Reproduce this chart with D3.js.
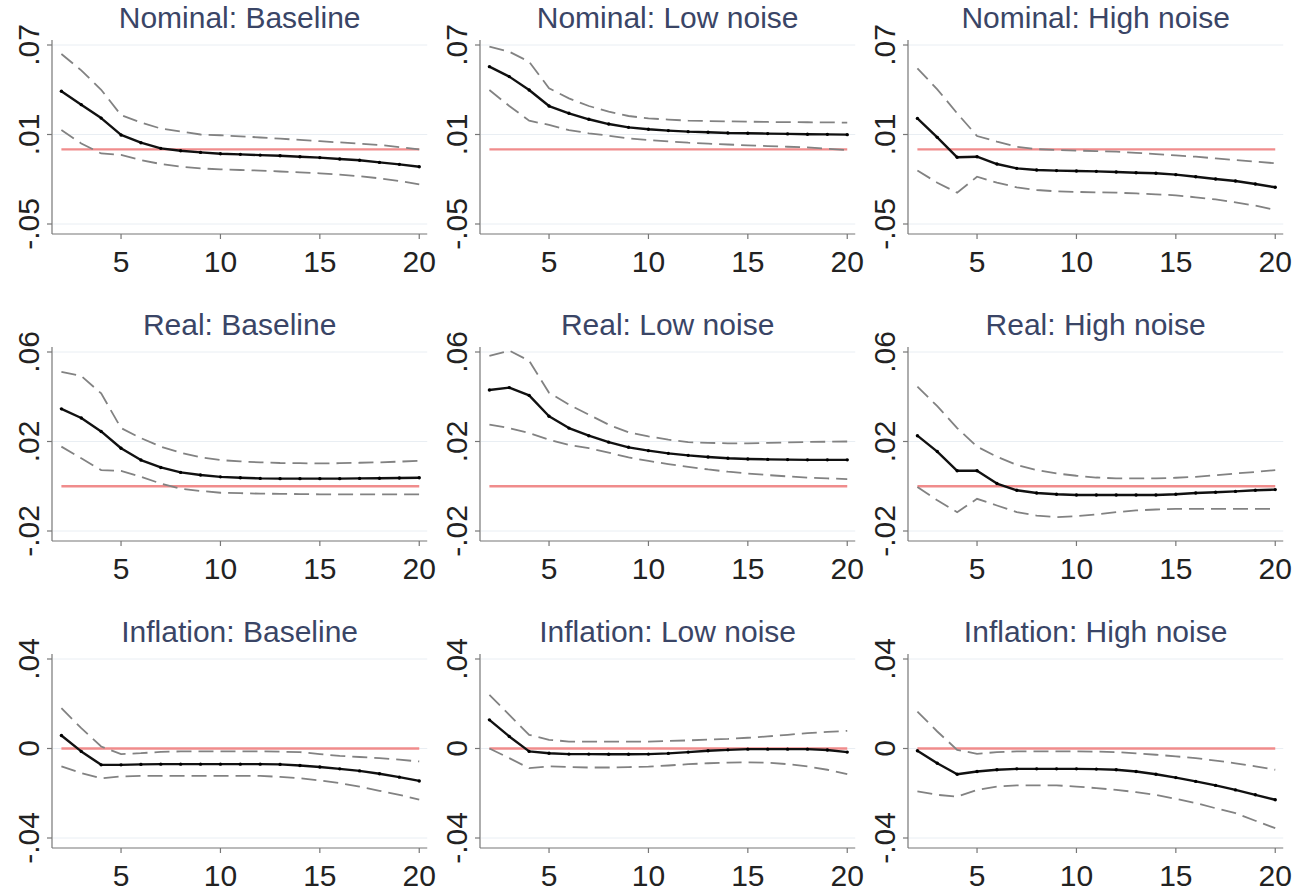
<!DOCTYPE html>
<html>
<head>
<meta charset="utf-8">
<script src="https://d3js.org/d3.v7.min.js"></script>
<style>
  body { margin: 0; background: #fff; }
  svg { display: block; }
  .title { font-family: "Liberation Sans", Arial, sans-serif; font-size: 30px; fill: #3a4566; }
  .tick-label { font-family: "Liberation Sans", Arial, sans-serif; font-size: 30px; fill: #222; }
</style>
</head>
<body>
<svg id="chart" width="1302" height="894"></svg>
<script>
// horizons on the x axis
const horizons = [2, 3, 4, 5, 6, 7, 8, 9, 10, 11, 12, 13, 14, 15, 16, 17, 18, 19, 20];
const xTicks = [5, 10, 15, 20];

const rowNames = ['Nominal', 'Real', 'Inflation'];
const colNames = ['Baseline', 'Low noise', 'High noise'];
const yTicksNominal = [-0.05, 0.01, 0.07];
const yTicksReal = [-0.02, 0.02, 0.06];
const yTicksInflation = [-0.04, 0, 0.04];

// Nominal
const nominalBaseMean = [0.039, 0.030, 0.021, 0.0097, 0.0045, 0.0007, -0.0009, -0.002, -0.0029, -0.0033, -0.0038, -0.0042, -0.0049, -0.0055, -0.0064, -0.0073, -0.0087, -0.010, -0.0116];
const nominalBaseUpper = [0.064, 0.053, 0.040, 0.023, 0.018, 0.014, 0.012, 0.010, 0.0095, 0.0088, 0.008, 0.0072, 0.0064, 0.0055, 0.0047, 0.0039, 0.003, 0.0015, 0.000];
const nominalBaseLower = [0.013, 0.004, -0.0027, -0.0037, -0.0071, -0.0098, -0.0116, -0.0127, -0.0134, -0.0138, -0.0142, -0.0148, -0.0154, -0.016, -0.0169, -0.018, -0.0194, -0.0212, -0.0234];

const nominalLowMean = [0.0555, 0.0488, 0.0398, 0.0291, 0.0242, 0.0202, 0.017, 0.0148, 0.0135, 0.0126, 0.0119, 0.0115, 0.011, 0.0108, 0.0106, 0.0104, 0.0102, 0.0101, 0.0099];
const nominalLowUpper = [0.0689, 0.0655, 0.0588, 0.041, 0.0342, 0.0291, 0.0253, 0.0224, 0.0208, 0.0200, 0.0193, 0.019, 0.0188, 0.0186, 0.0184, 0.0183, 0.0182, 0.0181, 0.018];
const nominalLowLower = [0.0398, 0.0291, 0.0193, 0.0164, 0.013, 0.0108, 0.0092, 0.0074, 0.0063, 0.0054, 0.0045, 0.0039, 0.0033, 0.0027, 0.0022, 0.0018, 0.0014, 0.0005, -0.0004];

const nominalHighMean = [0.0208, 0.0081, -0.0053, -0.0049, -0.0098, -0.0127, -0.0138, -0.0142, -0.0145, -0.0147, -0.0151, -0.0156, -0.016, -0.0169, -0.0183, -0.0198, -0.0212, -0.0232, -0.0254];
const nominalHighUpper = [0.0544, 0.0403, 0.0242, 0.009, 0.0052, 0.0018, 0.0002, -0.0004, -0.0008, -0.0011, -0.0015, -0.0023, -0.0031, -0.004, -0.0049, -0.006, -0.0071, -0.0082, -0.0093];
const nominalHighLower = [-0.0142, -0.0223, -0.029, -0.0183, -0.0223, -0.0254, -0.0272, -0.0281, -0.0285, -0.0288, -0.029, -0.0295, -0.0301, -0.0308, -0.0321, -0.0335, -0.0355, -0.0377, -0.0406];

// Real
const realBaseMean = [0.0346, 0.0305, 0.0245, 0.017, 0.0117, 0.0084, 0.0062, 0.005, 0.0042, 0.0038, 0.0035, 0.0034, 0.0034, 0.0034, 0.0034, 0.0035, 0.0036, 0.0037, 0.0038];
const realBaseUpper = [0.0511, 0.0493, 0.0415, 0.026, 0.0215, 0.0177, 0.015, 0.0129, 0.0117, 0.0111, 0.0107, 0.0104, 0.0103, 0.0102, 0.0103, 0.0105, 0.0107, 0.011, 0.0114];
const realBaseLower = [0.0177, 0.0125, 0.0072, 0.0069, 0.0042, 0.0012, -0.0011, -0.0021, -0.0029, -0.0031, -0.0033, -0.0034, -0.0035, -0.0036, -0.0036, -0.0036, -0.0036, -0.0036, -0.0036];

const realLowMean = [0.043, 0.0441, 0.0406, 0.0313, 0.026, 0.0226, 0.0197, 0.0174, 0.0159, 0.0147, 0.0138, 0.0131, 0.0125, 0.0122, 0.012, 0.0119, 0.0118, 0.0118, 0.0118];
const realLowUpper = [0.0583, 0.0606, 0.0561, 0.0418, 0.0365, 0.032, 0.0275, 0.0241, 0.0223, 0.0208, 0.0197, 0.0194, 0.0192, 0.0192, 0.0194, 0.0196, 0.0198, 0.0199, 0.02];
const realLowLower = [0.0275, 0.026, 0.0238, 0.0208, 0.0185, 0.017, 0.015, 0.0129, 0.0113, 0.0099, 0.0087, 0.0075, 0.0065, 0.0057, 0.005, 0.0044, 0.0038, 0.0035, 0.0032];

const realHighMean = [0.0226, 0.0155, 0.0069, 0.0069, 0.0012, -0.0018, -0.003, -0.0036, -0.0039, -0.0039, -0.0039, -0.0039, -0.0039, -0.0036, -0.003, -0.0027, -0.0023, -0.0018, -0.0015];
const realHighUpper = [0.0445, 0.0358, 0.026, 0.0177, 0.0132, 0.0095, 0.0072, 0.0057, 0.0047, 0.0039, 0.0035, 0.0035, 0.0035, 0.0038, 0.0042, 0.0049, 0.0057, 0.0064, 0.0072];
const realHighLower = [-0.0003, -0.0063, -0.0116, -0.0056, -0.0086, -0.0116, -0.0131, -0.0138, -0.0134, -0.0126, -0.0116, -0.0108, -0.0104, -0.0101, -0.0101, -0.0101, -0.0101, -0.0101, -0.0101];

// Inflation
const inflBaseMean = [0.0058, -0.0013, -0.0073, -0.0073, -0.0071, -0.007, -0.007, -0.007, -0.007, -0.007, -0.007, -0.0071, -0.0076, -0.0083, -0.0091, -0.01, -0.0113, -0.0128, -0.0145];
const inflBaseUpper = [0.018, 0.0091, 0.0009, -0.0025, -0.0021, -0.0015, -0.0013, -0.0013, -0.0013, -0.0013, -0.0013, -0.0014, -0.0016, -0.0025, -0.0033, -0.0038, -0.0043, -0.005, -0.0058];
const inflBaseLower = [-0.008, -0.011, -0.0133, -0.0125, -0.0122, -0.0122, -0.0122, -0.0122, -0.0122, -0.0122, -0.0122, -0.0127, -0.0133, -0.0143, -0.0155, -0.017, -0.0189, -0.0207, -0.0229];

const inflLowMean = [0.0128, 0.0054, -0.0013, -0.0021, -0.0025, -0.0025, -0.0026, -0.0026, -0.0025, -0.0022, -0.0016, -0.001, -0.0006, -0.0003, -0.0003, -0.0003, -0.0003, -0.0007, -0.0016];
const inflLowUpper = [0.024, 0.015, 0.0061, 0.0039, 0.0031, 0.0031, 0.0031, 0.0031, 0.0031, 0.0034, 0.0036, 0.004, 0.0043, 0.0048, 0.0054, 0.0061, 0.0069, 0.0074, 0.0079];
const inflLowLower = [0, -0.0043, -0.0088, -0.008, -0.0083, -0.0085, -0.0085, -0.0083, -0.0081, -0.0076, -0.007, -0.0066, -0.0063, -0.0062, -0.0063, -0.007, -0.008, -0.0095, -0.0115];

const inflHighMean = [-0.001, -0.0066, -0.0115, -0.0103, -0.0095, -0.0091, -0.0091, -0.0091, -0.0091, -0.0092, -0.0095, -0.0103, -0.0115, -0.013, -0.0147, -0.0165, -0.0185, -0.0207, -0.0229];
const inflHighUpper = [0.0165, 0.0076, -0.0006, -0.0024, -0.0016, -0.0013, -0.0013, -0.0013, -0.0013, -0.0014, -0.0016, -0.0022, -0.0028, -0.0035, -0.0043, -0.0054, -0.0066, -0.008, -0.0095];
const inflHighLower = [-0.0192, -0.0207, -0.0215, -0.0185, -0.017, -0.0165, -0.0165, -0.0165, -0.017, -0.0177, -0.0185, -0.0195, -0.0207, -0.0225, -0.0244, -0.0267, -0.0289, -0.0323, -0.0356];

const yTicksByRow = [yTicksNominal, yTicksReal, yTicksInflation];
const panels = [
  [nominalBaseMean, nominalBaseUpper, nominalBaseLower],
  [nominalLowMean, nominalLowUpper, nominalLowLower],
  [nominalHighMean, nominalHighUpper, nominalHighLower],
  [realBaseMean, realBaseUpper, realBaseLower],
  [realLowMean, realLowUpper, realLowLower],
  [realHighMean, realHighUpper, realHighLower],
  [inflBaseMean, inflBaseUpper, inflBaseLower],
  [inflLowMean, inflLowUpper, inflLowLower],
  [inflHighMean, inflHighUpper, inflHighLower],
];

// Stata style label: .07, -.05, 0
function fmt(v) {
  if (Math.abs(v) < 1e-12) return '0';
  let s = Math.abs(v).toFixed(2).replace(/^0/, '');
  return (v < 0 ? '-' : '') + s;
}

const svg = d3.select('#chart');

panels.forEach((p, i) => {
  const r = Math.floor(i / 3), c = i % 3;
  const axisX = 52 + 428 * c;
  const topTick = 45 + 307 * r;
  const botTick = 224 + 307 * r;
  const axisY = botTick + 10;
  const ticks = yTicksByRow[r];

  const x = d3.scaleLinear().domain([2, 20]).range([axisX + 9.4, axisX + 9.4 + 18 * 19.88]);
  const y = d3.scaleLinear().domain([ticks[0], ticks[2]]).range([botTick, topTick]);
  const right = x(20) + 8;

  const g = svg.append('g');

  // grid lines
  g.selectAll('.grid').data(ticks).enter().append('line')
    .attr('x1', axisX + 1).attr('x2', right)
    .attr('y1', d => y(d)).attr('y2', d => y(d))
    .attr('stroke', '#e9eef3').attr('stroke-width', 1);

  // zero line
  g.append('line')
    .attr('x1', x(2)).attr('x2', x(20))
    .attr('y1', y(0)).attr('y2', y(0))
    .attr('stroke', '#f08c8c').attr('stroke-width', 2.4);

  const line = d3.line().x((d, k) => x(horizons[k])).y(d => y(d));

  // bands
  [p[1], p[2]].forEach(band => {
    g.append('path').datum(band)
      .attr('d', line)
      .attr('fill', 'none')
      .attr('stroke', '#828282')
      .attr('stroke-width', 1.8)
      .attr('stroke-dasharray', '15,7');
  });

  // mean response
  g.append('path').datum(p[0])
    .attr('d', line)
    .attr('fill', 'none')
    .attr('stroke', '#111')
    .attr('stroke-width', 2.4)
    .attr('stroke-linejoin', 'round');
  g.selectAll('.dot').data(p[0]).enter().append('circle')
    .attr('cx', (d, k) => x(horizons[k]))
    .attr('cy', d => y(d))
    .attr('r', 1.7)
    .attr('fill', '#000');

  // axes
  g.append('line')
    .attr('x1', axisX).attr('x2', axisX)
    .attr('y1', topTick - 5).attr('y2', axisY)
    .attr('stroke', '#777').attr('stroke-width', 1.2);
  g.append('line')
    .attr('x1', axisX).attr('x2', right)
    .attr('y1', axisY).attr('y2', axisY)
    .attr('stroke', '#777').attr('stroke-width', 1.2);

  // y ticks and labels
  ticks.forEach(t => {
    g.append('line')
      .attr('x1', axisX - 5).attr('x2', axisX)
      .attr('y1', y(t)).attr('y2', y(t))
      .attr('stroke', '#777').attr('stroke-width', 1.2);
    g.append('text')
      .attr('class', 'tick-label')
      .attr('text-anchor', 'middle')
      .attr('transform', `translate(${axisX - 13},${y(t)}) rotate(-90)`)
      .text(fmt(t));
  });

  // x ticks and labels
  xTicks.forEach(t => {
    g.append('line')
      .attr('x1', x(t)).attr('x2', x(t))
      .attr('y1', axisY).attr('y2', axisY + 5)
      .attr('stroke', '#777').attr('stroke-width', 1.2);
    g.append('text')
      .attr('class', 'tick-label')
      .attr('text-anchor', 'middle')
      .attr('x', x(t)).attr('y', axisY + 38)
      .text(t);
  });

  // panel title
  g.append('text')
    .attr('class', 'title')
    .attr('text-anchor', 'middle')
    .attr('x', (axisX + right) / 2)
    .attr('y', topTick - 17)
    .text(rowNames[r] + ': ' + colNames[c]);
});
</script>
</body>
</html>
